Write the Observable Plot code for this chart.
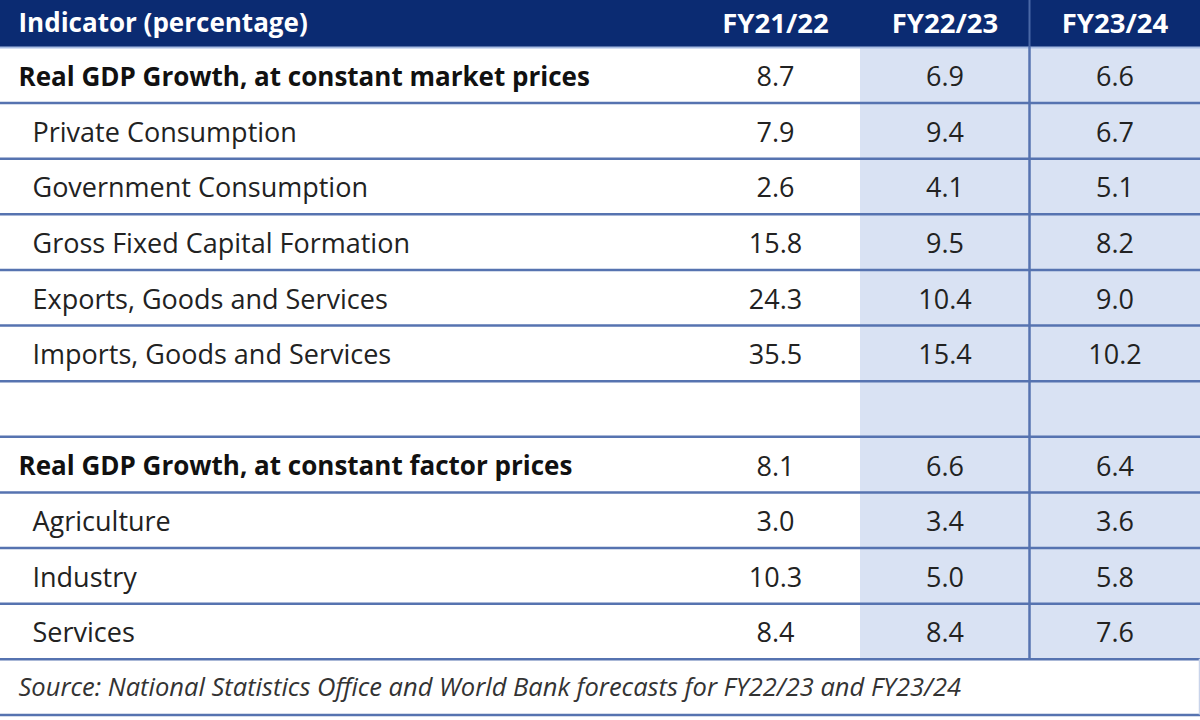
<!DOCTYPE html>
<html>
<head>
<meta charset="utf-8">
<script src="https://cdn.jsdelivr.net/npm/d3@7"></script>
<script src="https://cdn.jsdelivr.net/npm/@observablehq/plot@0.6"></script>
<style>
  html, body { margin: 0; padding: 0; background: #ffffff; }
  #chart svg { display: block; }
</style>
</head>
<body>
<div id="chart"></div>
<script>
// ---------- data ----------
const headerLabel = "Indicator (percentage)";
const years = ["FY21/22", "FY22/23", "FY23/24"];
const indicators = [
  "Real GDP Growth, at constant market prices",
  "Private Consumption",
  "Government Consumption",
  "Gross Fixed Capital Formation",
  "Exports, Goods and Services",
  "Imports, Goods and Services",
  "",
  "Real GDP Growth, at constant factor prices",
  "Agriculture",
  "Industry",
  "Services"
];
const isHeading = [true, false, false, false, false, false, false, true, false, false, false];
const fy2122 = [8.7, 7.9, 2.6, 15.8, 24.3, 35.5, null, 8.1, 3.0, 10.3, 8.4];
const fy2223 = [6.9, 9.4, 4.1, 9.5, 10.4, 15.4, null, 6.6, 3.4, 5.0, 8.4];
const fy2324 = [6.6, 6.7, 5.1, 8.2, 9.0, 10.2, null, 6.4, 3.6, 5.8, 7.6];
const sourceNote = "Source: National Statistics Office and World Bank forecasts for FY22/23 and FY23/24";

// ---------- layout (table geometry, in scale units) ----------
const W = 1200, H = 720;
const colEdges = [0, 690, 860, 1029, 1200];
const headerTop = -0.845;       // header row spans headerTop..0
const nRows = indicators.length; // data rows 0..nRows-1, source row nRows
const yMax = 12.1;

const series = [fy2122, fy2223, fy2324];
const cells = [];
series.forEach((vals, j) => vals.forEach((v, i) => {
  if (v != null) cells.push({row: i, col: j + 1, value: v});
}));
const rows = indicators.map((name, i) => ({row: i, name, heading: isHeading[i]}));
const headerCells = years.map((y, j) => ({col: j + 1, label: y}));
const colCenter = c => (colEdges[c] + colEdges[c + 1]) / 2;

const navy = "#0b2b72";
const shade = "#d9e2f3";
const lineCol = "#5673b0";
const textCol = "#222222";
const font = "'Open Sans', Lato, sans-serif";

const chart = Plot.plot({
  width: W,
  height: H,
  margin: 0,
  style: {background: "#ffffff", fontFamily: font},
  x: {domain: [0, W], range: [0, W], axis: null},
  y: {domain: [headerTop, yMax], range: [0, H], axis: null},
  marks: [
    // shaded forecast columns
    Plot.rect([2, 3], {x1: c => colEdges[c], x2: c => colEdges[c + 1], y1: 0, y2: nRows, fill: shade}),
    // header band
    Plot.rect([0], {x1: colEdges[0], x2: colEdges[4], y1: headerTop, y2: 0, fill: navy}),
    // horizontal row lines
    Plot.ruleY([0], {stroke: "#a9bde3", strokeWidth: 2}),
    Plot.ruleY(d3.range(1, nRows + 2), {stroke: lineCol, strokeWidth: 2.5}),
    // vertical separator between FY22/23 and FY23/24
    Plot.ruleX([colEdges[3]], {y1: headerTop, y2: 0, stroke: "#4a68a6", strokeWidth: 2}),
    Plot.ruleX([colEdges[3]], {y1: 0, y2: nRows, stroke: lineCol, strokeWidth: 2.5}),
    Plot.ruleX([colEdges[4] - 1], {y1: nRows, y2: nRows + 1, stroke: "#c9d4ea", strokeWidth: 1.5}),
    // header text
    Plot.text([headerLabel], {x: 18, y: headerTop / 2, text: d => d, textAnchor: "start", fill: "#ffffff",
      fontWeight: "bold", fontSize: 26, fontFamily: font}),
    Plot.text(headerCells, {x: d => colCenter(d.col), y: headerTop / 2, text: "label", fill: "#ffffff",
      fontWeight: "bold", fontSize: 27.5, fontFamily: font}),
    // row labels
    Plot.text(rows.filter(d => d.heading), {x: 18, y: d => d.row + 0.54, text: "name", textAnchor: "start",
      fill: "#111111", fontWeight: "bold", fontSize: 26, fontFamily: font}),
    Plot.text(rows.filter(d => !d.heading), {x: 32, y: d => d.row + 0.54, text: "name", textAnchor: "start",
      fill: textCol, fontSize: 27, fontFamily: font}),
    // values
    Plot.text(cells, {x: d => colCenter(d.col), y: d => d.row + 0.54, text: d => d.value.toFixed(1),
      fill: textCol, fontSize: 27, fontFamily: font}),
    // source note
    Plot.text([sourceNote], {x: 18, y: nRows + 0.52, text: d => d, textAnchor: "start", fill: "#333333",
      fontStyle: "italic", fontSize: 25.5, fontFamily: font})
  ]
});
document.getElementById("chart").appendChild(chart);
</script>
</body>
</html>
